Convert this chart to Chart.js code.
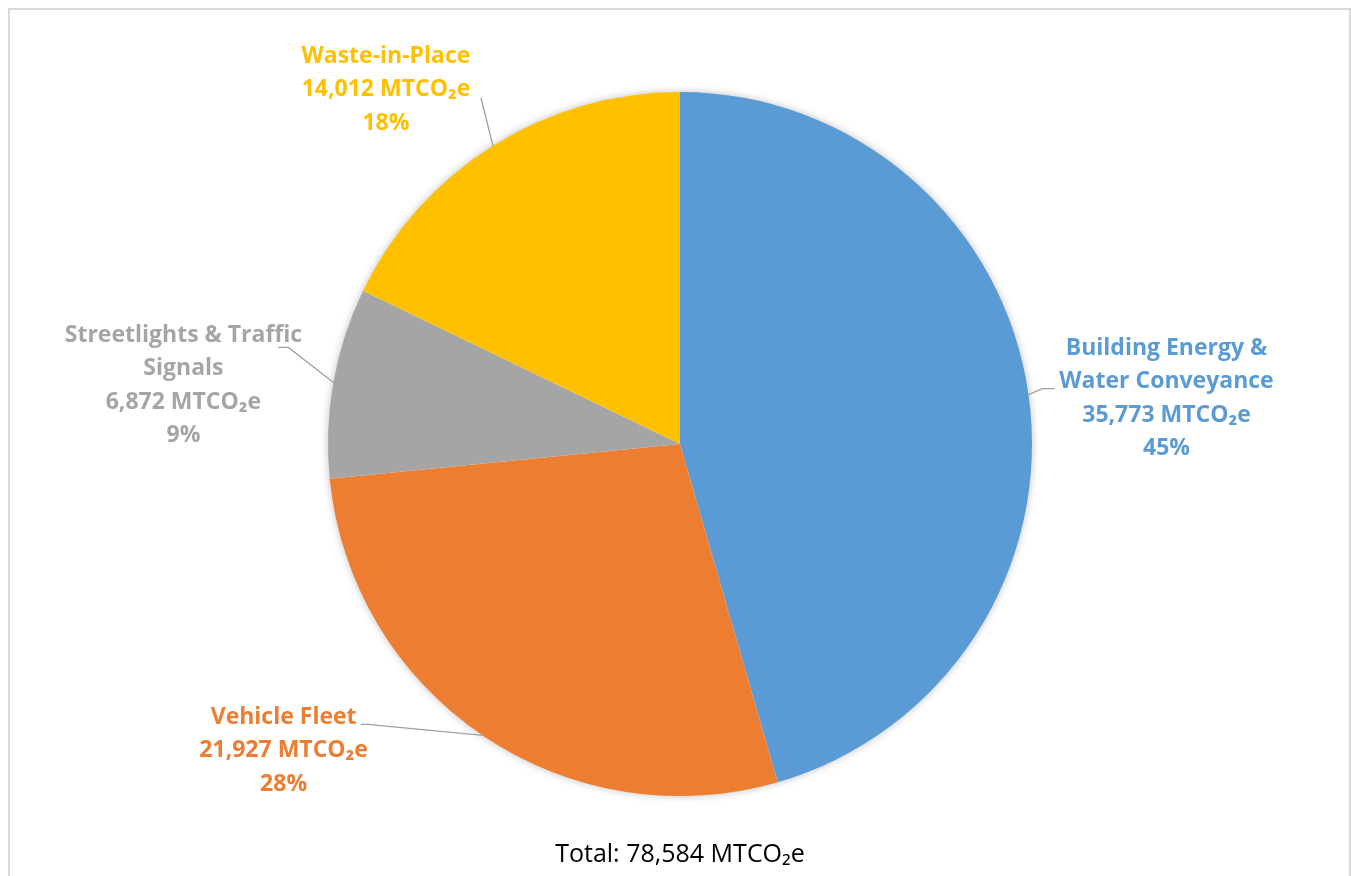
<!DOCTYPE html>
<html>
<head>
<meta charset="utf-8">
<script src="https://cdn.jsdelivr.net/npm/chart.js@4/dist/chart.umd.min.js"></script>
<style>
  html, body { margin: 0; padding: 0; background: #ffffff; }
  #wrap { position: relative; width: 1351px; height: 876px; }
</style>
</head>
<body>
<div id="wrap"><canvas id="c" width="1351" height="876"></canvas></div>
<script>
// Municipal operations emissions by source (MTCO2e)
const categories = [
  ['Building Energy &', 'Water Conveyance'],
  ['Vehicle Fleet'],
  ['Streetlights & Traffic', 'Signals'],
  ['Waste-in-Place']
];
const emissions = [35773, 21927, 6872, 14012];
const sliceColors = ['#5B9BD5', '#ED7D31', '#A5A5A5', '#FFC000'];
const unitLabel = 'MTCO\u2082e';

const total = emissions.reduce((a, b) => a + b, 0);

// Whole-number shares that add up to 100 (largest remainder)
function roundedShares(vals) {
  const raw = vals.map(v => v / total * 100);
  const out = raw.map(Math.floor);
  let left = 100 - out.reduce((a, b) => a + b, 0);
  raw.map((r, i) => [r - Math.floor(r), i])
     .sort((a, b) => b[0] - a[0])
     .forEach(([, i]) => { if (left > 0) { out[i]++; left--; } });
  return out;
}
const shares = roundedShares(emissions);

// Label placement relative to the outer midpoint of each slice
const labelOffset = [[138, 4], [-199, 15], [-150, 3], [-107, -56]];
// Leader line vertices relative to the same outer midpoint
const leaderPath = [
  [[14, -6], [26, -6]],
  [[-115, -11], [-122, -11]],
  [[-45, -35], [-55, -35]],
  [[-12, -48]]
];

const FONT = '"Open Sans", "Liberation Sans", sans-serif';

const framePlugin = {
  id: 'frame',
  beforeDatasetsDraw(chart) {
    const ctx = chart.ctx;
    const arc = chart.getDatasetMeta(0).data[0];
    if (!arc) return;
    ctx.save();
    // soft shadow behind the whole pie
    ctx.shadowColor = 'rgba(0,0,0,0.28)';
    ctx.shadowBlur = 9;
    ctx.fillStyle = '#ffffff';
    ctx.beginPath();
    ctx.arc(arc.x, arc.y, arc.outerRadius - 0.5, 0, Math.PI * 2);
    ctx.fill();
    ctx.restore();
  },
  afterDraw(chart) {
    const ctx = chart.ctx;
    const meta = chart.getDatasetMeta(0);
    ctx.save();
    // outer border
    ctx.strokeStyle = '#d9d9d9';
    ctx.lineWidth = 2;
    ctx.strokeRect(9, 9, 1341, 900);

    meta.data.forEach((arc, i) => {
      const mid = (arc.startAngle + arc.endAngle) / 2;
      const ex = arc.x + Math.cos(mid) * arc.outerRadius;
      const ey = arc.y + Math.sin(mid) * arc.outerRadius;

      // leader line
      ctx.strokeStyle = '#a0a0a0';
      ctx.lineWidth = 1.3;
      ctx.beginPath();
      ctx.moveTo(ex, ey);
      leaderPath[i].forEach(p => ctx.lineTo(ex + p[0], ey + p[1]));
      ctx.stroke();

      // label block
      const lines = categories[i].concat([
        emissions[i].toLocaleString('en-US') + ' ' + unitLabel,
        shares[i] + '%'
      ]);
      const lh = 33.5;
      const cx = ex + labelOffset[i][0];
      const cy = ey + labelOffset[i][1];
      ctx.fillStyle = sliceColors[i];
      ctx.font = 'bold 23px ' + FONT;
      ctx.textAlign = 'center';
      ctx.textBaseline = 'middle';
      lines.forEach((t, k) => {
        const y = cy + (k - (lines.length - 1) / 2) * lh;
        ctx.fillText(t, cx, y);
      });
    });

    // total caption
    ctx.fillStyle = '#000000';
    ctx.font = '25px ' + FONT;
    ctx.textAlign = 'center';
    ctx.textBaseline = 'middle';
    ctx.fillText('Total: ' + total.toLocaleString('en-US') + ' ' + unitLabel, meta.data[0].x, 855);
    ctx.restore();
  }
};

new Chart(document.getElementById('c'), {
  type: 'pie',
  data: {
    labels: categories,
    datasets: [{
      data: emissions,
      backgroundColor: sliceColors,
      borderWidth: 0
    }]
  },
  options: {
    responsive: false,
    animation: false,
    layout: { padding: { left: 328, right: 319, top: 92, bottom: 80 } },
    plugins: {
      legend: { display: false },
      tooltip: { enabled: false }
    }
  },
  plugins: [framePlugin]
});
</script>
</body>
</html>
